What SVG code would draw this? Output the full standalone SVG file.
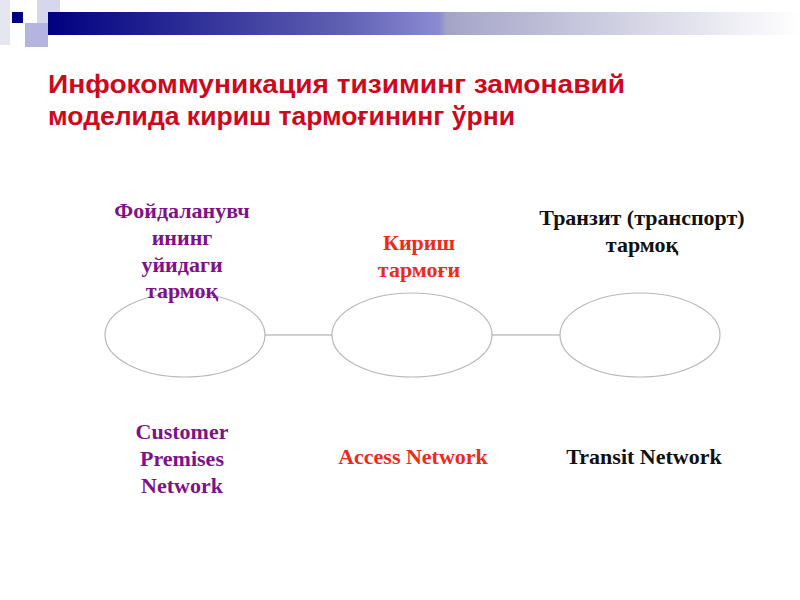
<svg xmlns="http://www.w3.org/2000/svg" width="800" height="600" viewBox="0 0 800 600">
<defs>
<linearGradient id="bar" x1="0" y1="0" x2="1" y2="0">
<stop offset="0" stop-color="#000080"/>
<stop offset="0.38" stop-color="#5c5cb0"/>
<stop offset="0.52" stop-color="#8a8ad4"/>
<stop offset="0.53" stop-color="#a4a4c8"/>
<stop offset="1" stop-color="#ffffff"/>
</linearGradient>
<style>
.ttl{font-family:"Liberation Sans",Arial,sans-serif;font-weight:bold;font-size:26px;fill:#cc0a1e}
.lbl{font-family:"Liberation Serif","Times New Roman",serif;font-weight:bold;font-size:22px;text-anchor:middle}
.pur{fill:#7e1288}
.red{fill:#ee2a1a}
.blk{fill:#111111}
.node{fill:#ffffff;stroke:#b8b8b8;stroke-width:1.2}
.conn{stroke:#c0c0c0;stroke-width:1.5;fill:none}
</style>
</defs>
<rect width="800" height="600" fill="#ffffff"/>
<g id="decor">
<rect x="0" y="0" width="10" height="45" fill="#e6e6f0"/>
<rect x="37" y="0" width="23" height="25" fill="#d6d6ec"/>
<rect x="48" y="12" width="752" height="23" fill="url(#bar)"/>
<rect x="12" y="12" width="11" height="11" fill="#000080"/>
<rect x="25" y="23" width="23" height="24" fill="#b4b4e0"/>
</g>
<g id="title">
<text class="ttl" x="48" y="93" textLength="577" lengthAdjust="spacingAndGlyphs">Инфокоммуникация тизиминг замонавий</text>
<text class="ttl" x="48" y="125" textLength="467" lengthAdjust="spacingAndGlyphs">моделида кириш тармоғининг ўрни</text>
</g>
<g id="connectors">
<line class="conn" x1="265" y1="335" x2="332" y2="335"/>
<line class="conn" x1="492" y1="335" x2="560" y2="335"/>
</g>
<g id="node-customer">
<ellipse class="node" cx="185" cy="335" rx="80" ry="42"/>
<text class="lbl pur" x="182" y="218">Фойдаланувч</text>
<text class="lbl pur" x="182" y="245">ининг</text>
<text class="lbl pur" x="182" y="272">уйидаги</text>
<text class="lbl pur" x="182" y="298">тармоқ</text>
<text class="lbl pur" x="182" y="439">Customer</text>
<text class="lbl pur" x="182" y="466">Premises</text>
<text class="lbl pur" x="182" y="493">Network</text>
</g>
<g id="node-access">
<ellipse class="node" cx="412" cy="335" rx="80" ry="42"/>
<text class="lbl red" x="419" y="250">Кириш</text>
<text class="lbl red" x="419" y="277">тармоғи</text>
<text class="lbl red" x="413" y="464">Access Network</text>
</g>
<g id="node-transit">
<ellipse class="node" cx="640" cy="335" rx="80" ry="42"/>
<text class="lbl blk" x="642" y="225">Транзит (транспорт)</text>
<text class="lbl blk" x="642" y="252">тармоқ</text>
<text class="lbl blk" x="644" y="464">Transit Network</text>
</g>
</svg>
